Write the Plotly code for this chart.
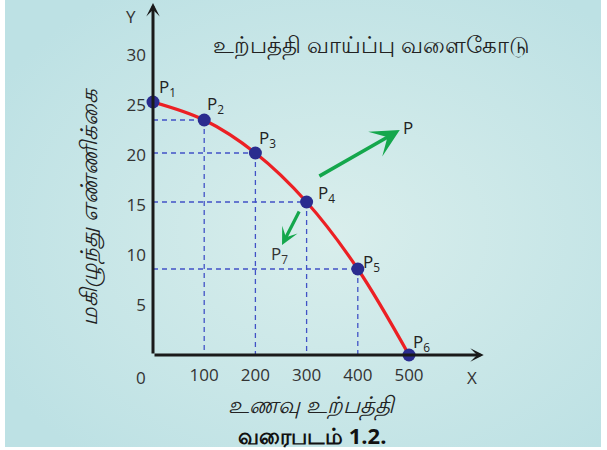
import base64
import plotly.graph_objects as go

# ---- data ----
point_labels = ["P<sub>1</sub>", "P<sub>2</sub>", "P<sub>3</sub>", "P<sub>4</sub>", "P<sub>5</sub>", "P<sub>6</sub>"]
food = [0, 100, 200, 300, 400, 500]          # உணவு உற்பத்தி
cars = [25.3, 23.5, 20.2, 15.3, 8.6, 0]      # மகிழுந்து எண்ணிக்கை
x_ticks = [100, 200, 300, 400, 500]
y_ticks = [5, 10, 15, 20, 25, 30]

# layout geometry (pixels)
FW, FH = 607, 450
L, T, W, H = 153, 0, 440, 355
XR = [0, W / 0.512]
YR = [0, H / 10.0]

def px(xp):
    return (xp - L) / W

def py(yp):
    return (T + H - yp) / H

fig = go.Figure()

# dashed guide lines from the points to both axes
gx, gy = [], []
for xv, yv in zip(food[1:5], cars[1:5]):
    gx += [0, xv, None, xv, xv, None]
    gy += [yv, yv, None, yv, 0, None]
fig.add_trace(go.Scatter(x=gx, y=gy, mode="lines",
                         line=dict(color="#4152c6", width=1.3, dash="5px,4px"),
                         hoverinfo="skip", showlegend=False))

# production possibility curve
fig.add_trace(go.Scatter(x=food, y=cars, mode="lines",
                         line=dict(color="#ec2024", width=3.2, shape="spline", smoothing=1.0),
                         hoverinfo="skip", showlegend=False))
fig.add_trace(go.Scatter(x=food, y=cars, mode="markers",
                         marker=dict(color="#2a2c8f", size=13),
                         hoverinfo="skip", showlegend=False, cliponaxis=False))

ann = []
# axes with arrow heads
ann.append(dict(x=646, y=0, ax=0, ay=0, xref="x", yref="y", axref="x", ayref="y",
                text="", showarrow=True, arrowhead=3, arrowsize=0.75, arrowwidth=3,
                arrowcolor="#1a1a1a"))
ann.append(dict(x=0, y=35.2, ax=0, ay=0, xref="x", yref="y", axref="x", ayref="y",
                text="", showarrow=True, arrowhead=3, arrowsize=0.75, arrowwidth=3,
                arrowcolor="#1a1a1a"))

# point labels
label_dx = [14, 11, 12, 20, 14, 12]
label_dy = [15, 16, 15, 9, 7, 13]
for lab, xv, yv, dx, dy in zip(point_labels, food, cars, label_dx, label_dy):
    ann.append(dict(x=xv, y=yv, xref="x", yref="y", text=lab, showarrow=False,
                    xanchor="center", yanchor="middle",
                    xshift=dx, yshift=dy, font=dict(family="Open Sans", size=17, color="#222")))

# green arrows
ann.append(dict(x=482, y=22.5, ax=322, ay=17.8, xref="x", yref="y", axref="x", ayref="y",
                text="", showarrow=True, arrowhead=3, arrowsize=1.35, arrowwidth=3.5,
                arrowcolor="#14a74c"))
ann.append(dict(x=252, y=11.0, ax=287, ay=14.5, xref="x", yref="y", axref="x", ayref="y",
                text="", showarrow=True, arrowhead=3, arrowsize=0.9, arrowwidth=3.2,
                arrowcolor="#14a74c"))


def label(xp, yp, text, size, color="#333", family="Open Sans", style="normal", angle=0):
    ann.append(dict(x=px(xp), y=py(yp), xref="paper", yref="paper", text=text,
                    showarrow=False, xanchor="center", yanchor="middle", textangle=angle,
                    font=dict(family=family, size=size, color=color, style=style)))


label(408, 128, "P", 17, "#222")
label(279, 255, "P<sub>7</sub>", 17, "#333")
# axis letters and origin
label(131, 16, "Y", 17)
label(472, 378, "X", 17)
label(141, 378, "0", 17)
# titles
label(371, 44, "உற்பத்தி வாய்ப்பு வளைகோடு", 23, "#222", family=None)
label(312, 404, "உணவு உற்பத்தி", 23, "#222", family=None, style="italic")
label(312, 435, "<b>வரைபடம் 1.2.</b>", 22, "#111", family=None)
label(88, 207, "மகிழுந்து எண்ணிக்கை", 23, "#222", family=None, style="italic", angle=-90)

# background gradient
svg = ("<svg xmlns='http://www.w3.org/2000/svg' width='596' height='447'>"
       "<defs><radialGradient id='g' cx='0.55' cy='0.52' r='0.65'>"
       "<stop offset='0' stop-color='#d9eeec'/><stop offset='1' stop-color='#bde1e4'/>"
       "</radialGradient></defs><rect width='596' height='447' fill='url(#g)'/></svg>")
src = "data:image/svg+xml;base64," + base64.b64encode(svg.encode()).decode()

fig.update_layout(
    width=FW, height=FH,
    margin=dict(l=L, r=FW - L - W, t=T, b=FH - T - H),
    paper_bgcolor="white", plot_bgcolor="rgba(0,0,0,0)",
    showlegend=False,
    annotations=ann,
    images=[dict(source=src, xref="paper", yref="paper", x=px(5), y=py(0),
                 sizex=596 / W, sizey=447 / H, xanchor="left", yanchor="top",
                 sizing="stretch", layer="below")],
    xaxis=dict(range=XR, showgrid=False, zeroline=False, showline=False,
               tickvals=x_ticks, ticktext=[str(v) for v in x_ticks], ticks="",
               ticklabelstandoff=8,
               tickfont=dict(family="Open Sans", size=17, color="#333"), fixedrange=True),
    yaxis=dict(range=YR, showgrid=False, zeroline=False, showline=False,
               tickvals=y_ticks, ticktext=[str(v) for v in y_ticks], ticks="",
               ticklabelstandoff=6,
               tickfont=dict(family="Open Sans", size=17, color="#333"), fixedrange=True),
)

fig.write_html("out.html", config={"displayModeBar": False},
               post_script="document.body.style.margin='0';")
